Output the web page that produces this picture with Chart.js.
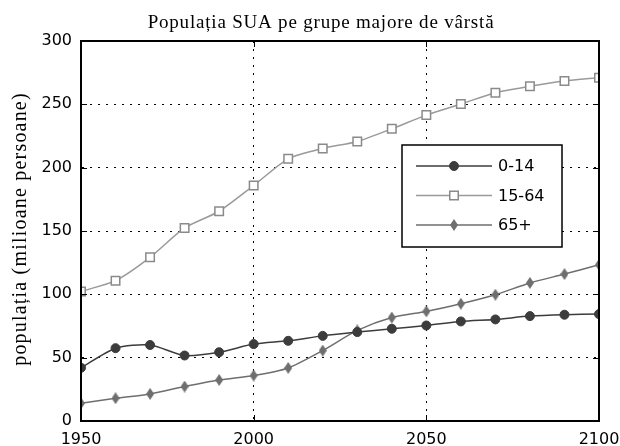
<!DOCTYPE html>
<html>
<head>
<meta charset="utf-8">
<script src="https://cdn.jsdelivr.net/npm/chart.js@4.4.0/dist/chart.umd.min.js"></script>
<style>
  html, body { margin: 0; padding: 0; background: #fff; overflow: hidden; }
  #wrap { width: 620px; height: 446px; overflow: hidden; }
</style>
</head>
<body>
<div id="wrap"><canvas id="chart" width="620" height="452"></canvas></div>
<script>
const chartTitle = 'Populația SUA pe grupe majore de vârstă';
const yTitle = 'populația (milioane persoane)';
const years = [1950, 1960, 1970, 1980, 1990, 2000, 2010, 2020, 2030, 2040, 2050, 2060, 2070, 2080, 2090, 2100];
const age0to14 = [42, 57.5, 60, 51.7, 54.3, 60.7, 63.3, 67.2, 70.2, 72.8, 75.4, 78.6, 80.2, 82.8, 83.9, 84.4];
const age15to64 = [102.3, 110.8, 129.2, 152.4, 165.6, 185.9, 207, 215.2, 220.7, 230.7, 241.5, 250.2, 259.2, 264.2, 268.4, 271];
const age65plus = [14, 18, 21.4, 27.2, 32.4, 35.9, 41.9, 55.6, 71.5, 81.7, 86.5, 92.6, 99.7, 109, 116, 123.4];
const seriesLabels = ['0-14', '15-64', '65+'];
const xTicks = [1950, 2000, 2050, 2100];
const yTicks = [0, 50, 100, 150, 200, 250, 300];

function makeDiamond(color) {
  const c = document.createElement('canvas');
  c.width = 8; c.height = 12;
  const g = c.getContext('2d');
  g.fillStyle = color;
  g.beginPath();
  g.moveTo(4, 0); g.lineTo(8, 6); g.lineTo(4, 12); g.lineTo(0, 6);
  g.closePath();
  g.fill();
  return c;
}

const toPoints = vals => vals.map((v, i) => ({ x: years[i], y: v }));

// titles, frame, inner ticks and legend box (matlab look)
const matlabFrame = {
  id: 'matlabFrame',
  afterDraw(chart) {
    const ctx = chart.ctx;
    const a = chart.chartArea;
    const xs = chart.scales.x, ys = chart.scales.y;
    ctx.save();
    ctx.strokeStyle = '#000';
    ctx.lineWidth = 1;
    ctx.beginPath();
    xTicks.forEach(v => {
      const px = Math.round(xs.getPixelForValue(v)) + 0.5;
      ctx.moveTo(px, a.bottom); ctx.lineTo(px, a.bottom - 6);
      ctx.moveTo(px, a.top); ctx.lineTo(px, a.top + 6);
    });
    yTicks.forEach(v => {
      const py = Math.round(ys.getPixelForValue(v)) + 0.5;
      ctx.moveTo(a.left, py); ctx.lineTo(a.left + 6, py);
      ctx.moveTo(a.right, py); ctx.lineTo(a.right - 6, py);
    });
    ctx.stroke();
    ctx.lineWidth = 2;
    ctx.strokeRect(a.left, a.top, a.right - a.left, a.bottom - a.top);

    // title
    ctx.fillStyle = '#000';
    ctx.font = '19px "Liberation Serif", "Times New Roman", serif';
    ctx.letterSpacing = '0.8px';
    ctx.textAlign = 'center';
    ctx.textBaseline = 'alphabetic';
    ctx.fillText(chartTitle, 321, 28);

    // y axis title
    ctx.save();
    ctx.font = '20px "Liberation Serif", "Times New Roman", serif';
    ctx.letterSpacing = '1.2px';
    ctx.translate(21, (a.top + a.bottom) / 2 - 2);
    ctx.rotate(-Math.PI / 2);
    ctx.textBaseline = 'middle';
    ctx.fillText(yTitle, 0, 0);
    ctx.restore();
    ctx.letterSpacing = '0px';

    // legend
    const lx = a.left + 321, ly = a.top + 104, lw = 160, lh = 102;
    ctx.fillStyle = '#fff';
    ctx.fillRect(lx, ly, lw, lh);
    ctx.lineWidth = 1.5;
    ctx.strokeStyle = '#000';
    ctx.strokeRect(lx, ly, lw, lh);
    ctx.font = '16px "DejaVu Sans", sans-serif';
    ctx.textAlign = 'left';
    ctx.textBaseline = 'middle';
    chart.data.datasets.forEach((ds, i) => {
      const ry = ly + 21 + i * 29.5;
      ctx.strokeStyle = ds.borderColor;
      ctx.lineWidth = ds.borderWidth;
      ctx.beginPath();
      ctx.moveTo(lx + 14, ry); ctx.lineTo(lx + 90, ry);
      ctx.stroke();
      ctx.fillStyle = ds.pointBackgroundColor;
      ctx.strokeStyle = ds.pointBorderColor;
      ctx.lineWidth = ds.pointBorderWidth;
      Chart.helpers.drawPoint(ctx, {
        pointStyle: ds.pointStyle,
        radius: ds.pointRadius,
        borderWidth: ds.pointBorderWidth,
        rotation: 0
      }, lx + 52, ry);
      ctx.fillStyle = '#000';
      ctx.fillText(ds.label, lx + 96, ry + 1);
    });
    ctx.restore();
  }
};

new Chart(document.getElementById('chart'), {
  type: 'line',
  data: {
    datasets: [
      {
        label: seriesLabels[0],
        data: toPoints(age0to14),
        borderColor: '#3c3c3c',
        borderWidth: 1.5,
        pointStyle: 'circle',
        pointRadius: 4.5,
        pointBackgroundColor: '#3c3c3c',
        pointBorderColor: '#3c3c3c',
        pointBorderWidth: 1,
        tension: 0.25
      },
      {
        label: seriesLabels[1],
        data: toPoints(age15to64),
        borderColor: '#9a9a9a',
        borderWidth: 1.5,
        pointStyle: 'rect',
        pointRadius: 6,
        pointBackgroundColor: '#ffffff',
        pointBorderColor: '#8a8a8a',
        pointBorderWidth: 1.5,
        tension: 0.25
      },
      {
        label: seriesLabels[2],
        data: toPoints(age65plus),
        borderColor: '#6e6e6e',
        borderWidth: 1.5,
        pointStyle: makeDiamond('#6e6e6e'),
        pointRadius: 5,
        pointBackgroundColor: '#6e6e6e',
        pointBorderColor: '#6e6e6e',
        pointBorderWidth: 1,
        tension: 0.25
      }
    ]
  },
  options: {
    responsive: false,
    animation: false,
    devicePixelRatio: 1,
    layout: { padding: { top: 41, right: 21, left: 0, bottom: 0 } },
    plugins: {
      legend: { display: false },
      title: { display: false },
      tooltip: { enabled: false }
    },
    scales: {
      x: {
        type: 'linear',
        min: 1950,
        max: 2100,
        afterBuildTicks: s => { s.ticks = xTicks.map(v => ({ value: v })); },
        afterFit: s => { s.height = 31; s.paddingLeft = 0; s.paddingRight = 0; },
        grid: { color: '#000', lineWidth: 1, drawTicks: false },
        border: { display: true, color: '#000', width: 2, dash: [2, 6] },
        ticks: {
          color: '#000',
          padding: 9,
          maxRotation: 0,
          font: { family: '"DejaVu Sans", sans-serif', size: 16 },
          callback: v => String(v)
        }
      },
      y: {
        min: 0,
        max: 300,
        afterBuildTicks: s => { s.ticks = yTicks.map(v => ({ value: v })); },
        afterFit: s => { s.width = 81; s.paddingTop = 0; s.paddingBottom = 0; },
        grid: { color: '#000', lineWidth: 1, drawTicks: false },
        border: { display: true, color: '#000', width: 2, dash: [2, 6] },
        ticks: {
          color: '#000',
          padding: 9,
          font: { family: '"DejaVu Sans", sans-serif', size: 16 },
          callback: v => String(v)
        }
      }
    }
  },
  plugins: [matlabFrame]
});
</script>
</body>
</html>
